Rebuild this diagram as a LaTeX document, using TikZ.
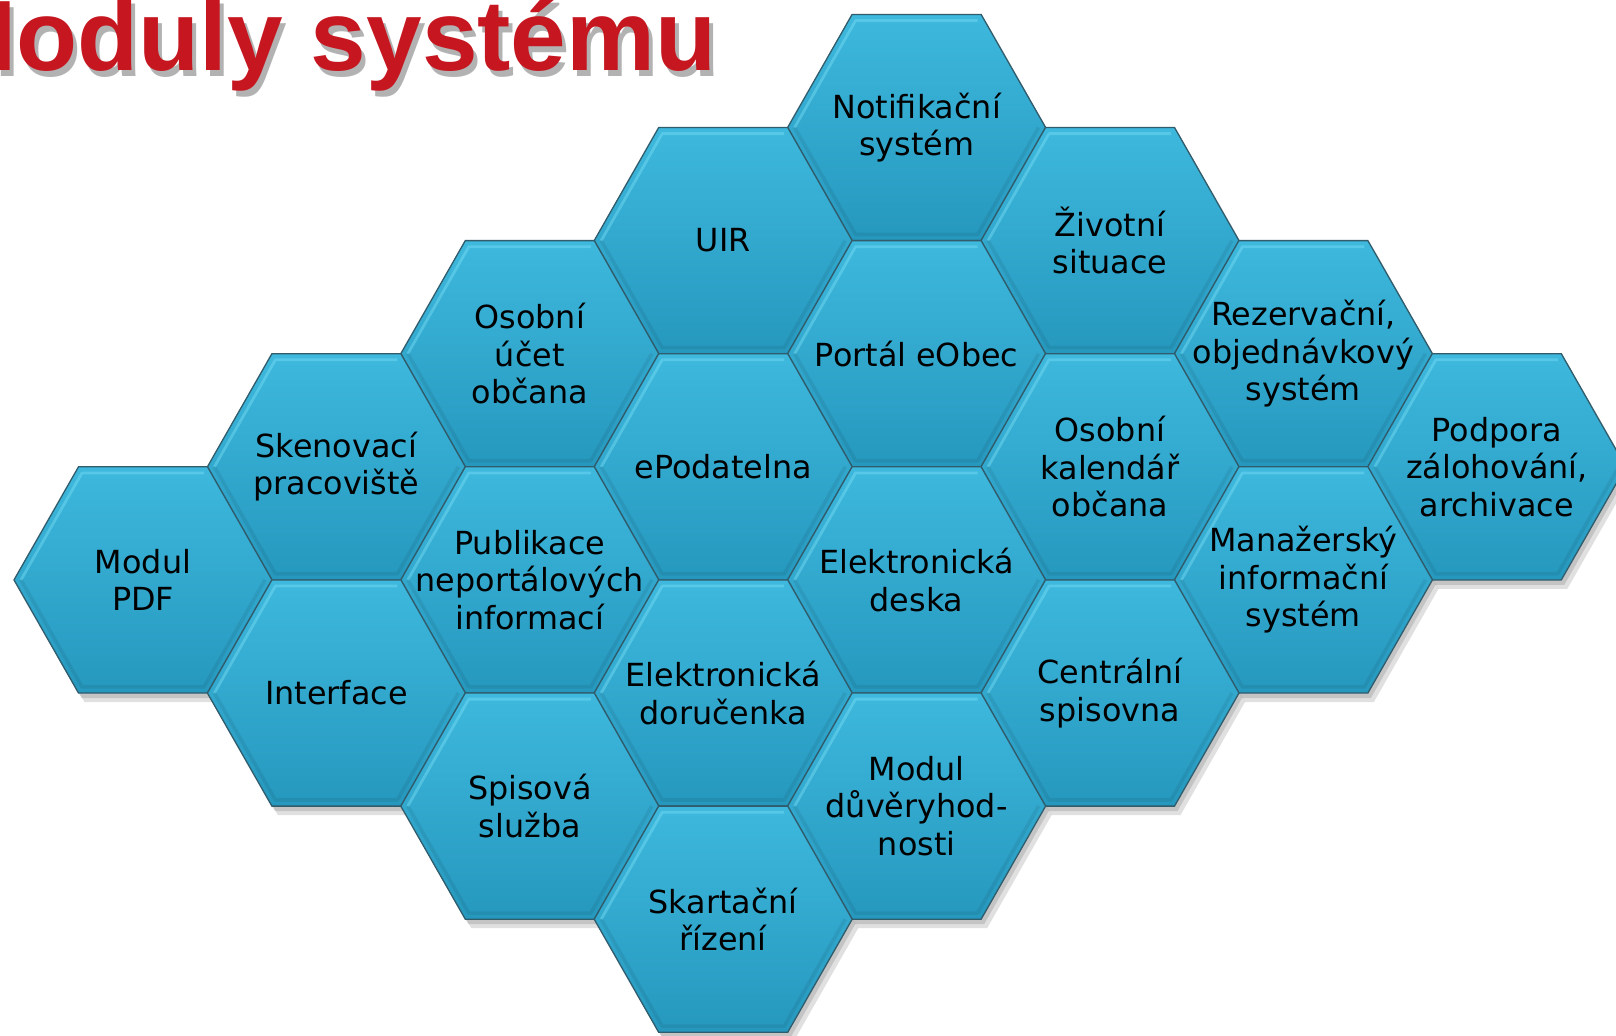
\documentclass[tikz,border=0pt]{standalone}
\usepackage{fontspec}
\setmainfont{DejaVu Sans}
\newfontfamily\titlefont{Liberation Sans}
\usetikzlibrary{calc}
\definecolor{hexTop}{RGB}{62,184,221}
\definecolor{hexBot}{RGB}{38,152,190}
\definecolor{hexEdge}{RGB}{48,92,108}
\definecolor{hexLight}{RGB}{120,222,245}
\definecolor{titleRed}{RGB}{198,22,32}
\tikzset{
  hexfill/.style={top color=hexTop, bottom color=hexBot, draw=hexEdge, line width=0.65pt, line join=miter},
  hexshade/.style={fill=black, opacity=0.12},
  hexlabel/.style={align=center, font=\fontsize{15.9}{18.7}\selectfont, text=black, inner sep=0pt},
  titletext/.style={anchor=base east, inner sep=0pt, font=\titlefont\bfseries\fontsize{50}{56}\selectfont}
}
\newcommand\hexshape[3]{(#1) ++(-#2,0) -- ++(#2/2,-#3) -- ++(#2,0) -- ++(#2/2,#3) -- ++(-#2/2,#3) -- ++(-#2,0) -- cycle}
\begin{document}
\begin{tikzpicture}[x=0.5pt,y=-0.5pt]
\useasboundingbox (0,0) rectangle (1616,1035);
\fill[white] (0,0) rectangle (1616,1035);
% centres
\foreach \n/\c/\k in {notif/4/0, uir/3/1, zivot/5/1, ucet/2/2, portal/4/2, rezerv/6/2,
  sken/1/3, epod/3/3, kalend/5/3, podpora/7/3, pdf/0/4, publik/2/4, edeska/4/4, manaz/6/4,
  iface/1/5, dorucen/3/5, central/5/5, spis/2/6, duver/4/6, skart/3/7}{
  \coordinate (c-\n) at ({143+193.4*\c},{127.5+113.1*\k});
}
\def\hexlist{notif,uir,zivot,ucet,portal,rezerv,sken,epod,kalend,podpora,pdf,publik,edeska,manaz,iface,dorucen,central,spis,duver,skart}
% shadows
\foreach \n in \hexlist {
  \fill[hexshade] \hexshape{$(c-\n)+(6,9)$}{129}{113.1};
  \fill[hexshade] \hexshape{$(c-\n)+(3,5)$}{129}{113.1};
}
% hexagons
\foreach \n in \hexlist {
  \path[hexfill] \hexshape{c-\n}{129}{113.1};
  \draw[hexLight, line width=1.4pt, opacity=0.45, line join=round] (c-\n) ++(-122,0) -- ++(61,-107) -- ++(122,0);
  \draw[black, line width=1.8pt, opacity=0.07, line join=round] (c-\n) ++(-122,0) -- ++(61,107) -- ++(122,0) -- ++(61,-107);
}
% labels
\foreach \n/\t in {notif/{Notifikační\\systém}, uir/{UIR}, zivot/{Životní\\situace},
  ucet/{Osobní\\účet\\občana}, portal/{Portál eObec}, rezerv/{Rezervační,\\objednávkový\\systém},
  sken/{Skenovací\\pracoviště}, epod/{ePodatelna}, kalend/{Osobní\\kalendář\\občana},
  podpora/{Podpora\\zálohování,\\archivace}, pdf/{Modul\\PDF}, publik/{Publikace\\neportálových\\informací},
  edeska/{Elektronická\\deska}, manaz/{Manažerský\\informační\\systém}, iface/{Interface},
  dorucen/{Elektronická\\doručenka}, central/{Centrální\\spisovna}, spis/{Spisová\\služba},
  duver/{Modul\\důvěryhod-\\nosti}, skart/{Skartační\\řízení}}{
  \node[hexlabel] (\n) at (c-\n) {\t};
}
% title
\node[titletext, text=black, opacity=0.3] (titleshadow) at (721,76) {Moduly systému};
\node[titletext, text=titleRed] (title) at (717,70) {Moduly systému};
\end{tikzpicture}
\end{document}
